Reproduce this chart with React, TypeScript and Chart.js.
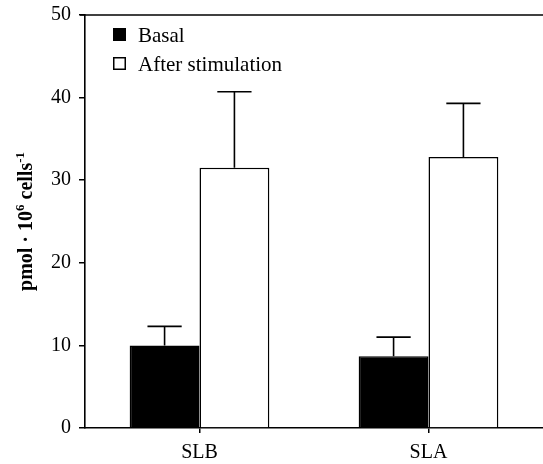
import React, { useEffect, useRef } from "react";
import { Chart, registerables } from "chart.js";

Chart.register(...registerables);

const categories = ["SLB", "SLA"];
const basalValues = [10.0, 8.7];
const basalErrors = [2.3, 2.3];
const afterValues = [31.5, 32.8];
const afterErrors = [9.2, 6.5];
const yTicks = [0, 10, 20, 30, 40, 50];
const legendLabels = ["Basal", "After stimulation"];

const FONT = "'Liberation Serif', 'Times New Roman', serif";

const errorBarPlugin = {
  id: "errorBars",
  afterDatasetsDraw(chart: any) {
    const ctx = chart.ctx;
    const yScale = chart.scales.y;
    chart.data.datasets.forEach((ds: any, di: number) => {
      const meta = chart.getDatasetMeta(di);
      const errs: number[] = ds.errors || [];
      meta.data.forEach((bar: any, i: number) => {
        const v = ds.data[i];
        const e = errs[i];
        if (e == null) return;
        const yTop = yScale.getPixelForValue(v + e);
        const yBar = yScale.getPixelForValue(v);
        const half = bar.width * 0.245;
        ctx.save();
        ctx.strokeStyle = "#000";
        ctx.lineWidth = 1.6;
        ctx.beginPath();
        ctx.moveTo(bar.x, yBar);
        ctx.lineTo(bar.x, yTop);
        ctx.moveTo(bar.x - half, yTop);
        ctx.lineTo(bar.x + half, yTop);
        ctx.stroke();
        ctx.restore();
      });
    });
  },
};

const framePlugin = {
  id: "frameAndLegend",
  afterDraw(chart: any) {
    const ctx = chart.ctx;
    const { left, right, top, bottom } = chart.chartArea;
    ctx.save();
    // top border line
    ctx.strokeStyle = "#000";
    ctx.lineWidth = 1.6;
    ctx.beginPath();
    ctx.moveTo(left - 5, top);
    ctx.lineTo(right, top);
    ctx.stroke();

    // legend
    ctx.font = `21px ${FONT}`;
    ctx.fillStyle = "#000";
    ctx.textBaseline = "alphabetic";
    const lx = left + 28;
    const rows = [
      { y: 28, fill: "#000" },
      { y: 57, fill: "#fff" },
    ];
    rows.forEach((r, i) => {
      ctx.fillStyle = r.fill;
      ctx.fillRect(lx, r.y, 13, 13);
      ctx.strokeStyle = "#000";
      ctx.lineWidth = 1.5;
      ctx.strokeRect(lx + 0.75, r.y + 0.75, 11.5, 11.5);
      ctx.fillStyle = "#000";
      ctx.fillText(legendLabels[i], lx + 25, r.y + 14);
    });

    // y-axis title with superscripts
    const cy = (top + bottom) / 2;
    const parts = [
      { t: "pmol \u00B7 10", sup: false },
      { t: "6", sup: true },
      { t: " cells", sup: false },
      { t: "-1", sup: true },
    ];
    const mainFont = `bold 20px ${FONT}`;
    const supFont = `bold 13px ${FONT}`;
    let total = 0;
    parts.forEach((p) => {
      ctx.font = p.sup ? supFont : mainFont;
      total += ctx.measureText(p.t).width;
    });
    ctx.translate(32, cy);
    ctx.rotate(-Math.PI / 2);
    let x = -total / 2;
    parts.forEach((p) => {
      ctx.font = p.sup ? supFont : mainFont;
      ctx.fillText(p.t, x, p.sup ? -8 : 0);
      x += ctx.measureText(p.t).width;
    });
    ctx.restore();
  },
};

export default function App() {
  const canvasRef = useRef<HTMLCanvasElement | null>(null);

  useEffect(() => {
    if (!canvasRef.current) return;
    const chart = new Chart(canvasRef.current, {
      type: "bar",
      data: {
        labels: categories,
        datasets: [
          {
            label: legendLabels[0],
            data: basalValues,
            errors: basalErrors,
            backgroundColor: "#000",
            borderColor: "#000",
            borderWidth: 1.5,
          } as any,
          {
            label: legendLabels[1],
            data: afterValues,
            errors: afterErrors,
            backgroundColor: "#fff",
            borderColor: "#000",
            borderWidth: 1.5,
          } as any,
        ],
      },
      options: {
        animation: false,
        responsive: false,
        maintainAspectRatio: false,
        layout: { padding: { top: 15, right: 0, bottom: 0, left: 0 } },
        plugins: {
          legend: { display: false },
          tooltip: { enabled: false },
        },
        datasets: {
          bar: { categoryPercentage: 0.61, barPercentage: 1.0 },
        },
        scales: {
          x: {
            afterFit: (scale: any) => {
              scale.height = 36;
              scale.paddingLeft = 0;
              scale.paddingRight = 0;
            },
            grid: {
              display: true,
              drawOnChartArea: false,
              offset: false,
              tickLength: 5,
              color: "#000",
              lineWidth: 1.5,
            },
            border: { display: true, color: "#000", width: 1.6 },
            ticks: {
              color: "#000",
              font: { family: FONT, size: 20 },
              padding: 8,
            },
          },
          y: {
            min: 0,
            max: 50,
            afterFit: (scale: any) => {
              scale.width = 85;
              scale.paddingTop = 0;
              scale.paddingBottom = 0;
            },
            afterBuildTicks: (scale: any) => {
              scale.ticks = yTicks.map((v) => ({ value: v }));
            },
            grid: {
              display: true,
              drawOnChartArea: false,
              tickLength: 6,
              color: "#000",
              lineWidth: 1.5,
            },
            border: { display: true, color: "#000", width: 1.6 },
            ticks: {
              color: "#000",
              font: { family: FONT, size: 20 },
              padding: 8,
            },
          },
        },
      },
      plugins: [errorBarPlugin, framePlugin],
    } as any);
    return () => chart.destroy();
  }, []);

  return (
    <div style={{ position: "fixed", left: 0, top: 0, width: 543, height: 464, background: "#fff" }}>
      <canvas ref={canvasRef} width={543} height={464} style={{ width: 543, height: 464 }} />
    </div>
  );
}
